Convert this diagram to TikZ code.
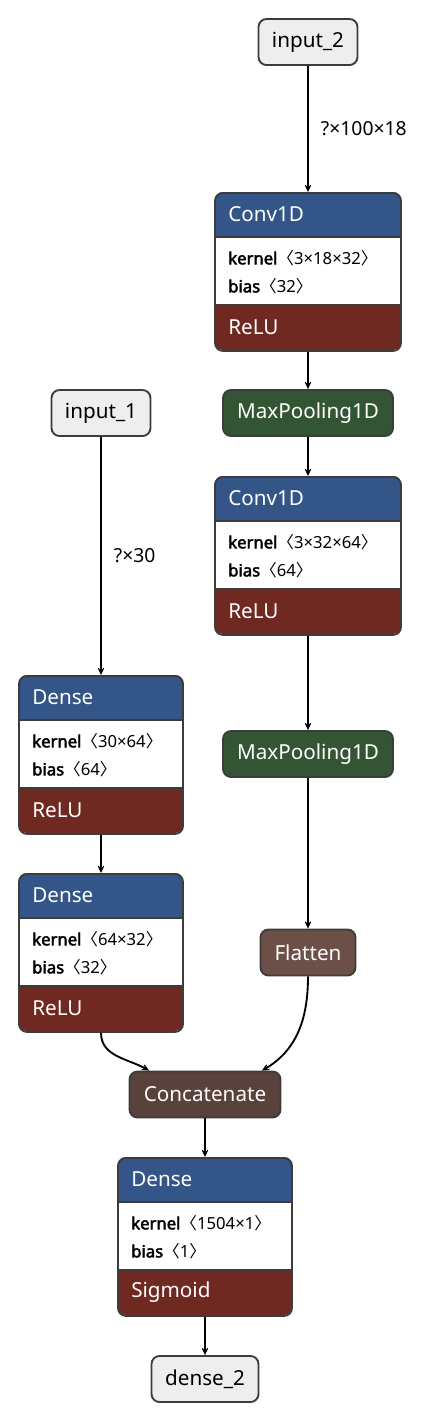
\documentclass[tikz,border=0pt]{standalone}
\usepackage{fontspec}
\setmainfont{Noto Sans}[BoldFont={Noto Sans},BoldFeatures={FakeBold=2.5}]
\newfontfamily\cjk{Noto Sans CJK SC}
\usetikzlibrary{arrows.meta}
\definecolor{nHead}{HTML}{335588}
\definecolor{nAct}{HTML}{702921}
\definecolor{nPool}{HTML}{335533}
\definecolor{nFlat}{HTML}{6C4F47}
\definecolor{nCat}{HTML}{59423B}
\definecolor{nIn}{HTML}{EEEEEE}
\definecolor{nLine}{HTML}{3C3C3C}
\newcommand\pxu{0.75pt}
\newcommand\shp[1]{{\cjk 〈}#1{\cjk 〉}}

\begin{document}
\begin{tikzpicture}[x=0.75pt,y=-0.75pt]
    \tikzset{
        bigtxt/.style={font=\fontsize{15.5}{18}\selectfont},
        inbox/.style={bigtxt,draw=nLine,line width=1.4pt,fill=nIn,rounded corners=6pt,minimum height=46*\pxu,inner sep=0pt},
        opbox/.style={inbox,fill=#1,text=white},
        edge/.style={line width=1.4pt,-{Stealth[length=8.5pt,width=8pt,inset=5.5pt]}},
        shapelbl/.style={font=\fontsize{14.5}{17}\selectfont,anchor=west,inner sep=0pt,xshift=9pt},
        pics/layer/.style args={#1/#2/#3/#4/#5}{code={
            \begin{scope}
                \clip[rounded corners=6pt] ({-#1/2},0) rectangle ({#1/2},158);
                \fill[white] ({-#1/2},0) rectangle ({#1/2},158);
                \fill[nHead] ({-#1/2},0) rectangle ({#1/2},45);
                \fill[nAct] ({-#1/2},113) rectangle ({#1/2},158);
            \end{scope}
            \draw[nLine,line width=1.4pt] ({-#1/2},45) -- ({#1/2},45) ({-#1/2},113) -- ({#1/2},113);
            \node[bigtxt,text=white,anchor=west,inner sep=0pt] at ({-#1/2+13},22.5) {#2};
            \node[font=\fontsize{12.5}{15}\selectfont,anchor=west,inner sep=0pt] at ({-#1/2+13},66) {#3};
            \node[font=\fontsize{12.5}{15}\selectfont,anchor=west,inner sep=0pt] at ({-#1/2+13},94) {#4};
            \node[bigtxt,text=white,anchor=west,inner sep=0pt] at ({-#1/2+13},135.5) {#5};
            \node[draw=nLine,line width=1.4pt,rounded corners=6pt,inner sep=0pt,anchor=north,minimum width=#1*\pxu,minimum height=158*\pxu] (-box) at (0,0) {};
        }}
    }
    \useasboundingbox (0,0) rectangle (430,1422);

    \node[inbox,minimum width=99*\pxu] (in2) at (308,42) {input\_2};
    \pic (c1) at (308,192) {layer=186/Conv1D/\textbf{kernel}\shp{3×18×32}/\textbf{bias}\shp{32}/ReLU};
    \node[opbox=nPool,minimum width=170*\pxu] (mp1) at (308,413) {MaxPooling1D};
    \pic (c2) at (308,476) {layer=186/Conv1D/\textbf{kernel}\shp{3×32×64}/\textbf{bias}\shp{64}/ReLU};
    \node[opbox=nPool,minimum width=170*\pxu] (mp2) at (308,754) {MaxPooling1D};
    \node[opbox=nFlat,minimum width=95*\pxu] (fl) at (308,952.5) {Flatten};

    \node[inbox,minimum width=99*\pxu] (in1) at (101,413) {input\_1};
    \pic (d1) at (101,675) {layer=164/Dense/\textbf{kernel}\shp{30×64}/\textbf{bias}\shp{64}/ReLU};
    \pic (d2) at (101,873) {layer=164/Dense/\textbf{kernel}\shp{64×32}/\textbf{bias}\shp{32}/ReLU};

    \node[opbox=nCat,minimum width=151*\pxu] (cat) at (205,1094.5) {Concatenate};
    \pic (d3) at (205,1157) {layer=174/Dense/\textbf{kernel}\shp{1504×1}/\textbf{bias}\shp{1}/Sigmoid};
    \node[inbox,minimum width=107*\pxu] (out) at (205,1379) {dense\_2};

    \draw[edge] (in2) -- node[shapelbl] {?×100×18} (c1-box);
    \draw[edge] (c1-box) -- (mp1);
    \draw[edge] (mp1) -- (c2-box);
    \draw[edge] (c2-box) -- (mp2);
    \draw[edge] (mp2) -- (fl);
    \draw[edge] (in1) -- node[shapelbl] {?×30} (d1-box);
    \draw[edge] (d1-box) -- (d2-box);
    \draw[edge] (d2-box.south) to[out=-90,in=150] ([xshift=-56*\pxu]cat.north);
    \draw[edge] (fl.south) to[out=-90,in=30] ([xshift=57*\pxu]cat.north);
    \draw[edge] (cat) -- (d3-box);
    \draw[edge] (d3-box) -- (out);
\end{tikzpicture}
\end{document}
